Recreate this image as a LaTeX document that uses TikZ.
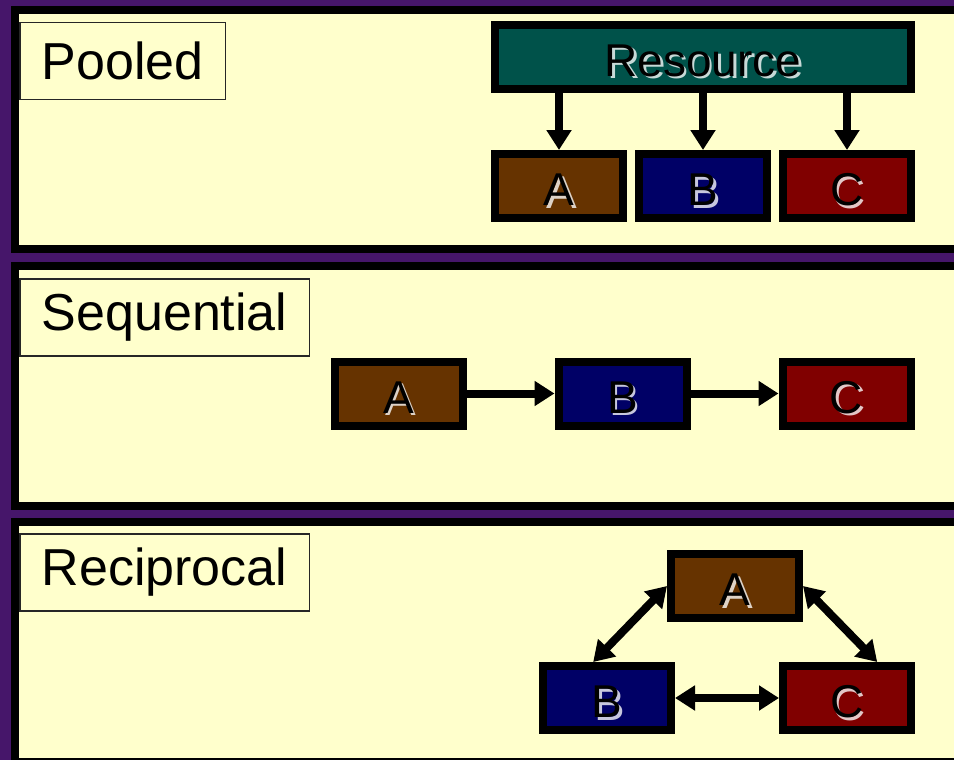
\documentclass[tikz,border=0pt]{standalone}
\usepackage{fontspec}
\setmainfont{Liberation Sans}
\usepackage{tikz}
\usetikzlibrary{arrows.meta,positioning}

\definecolor{dusk}{RGB}{70,22,106}
\definecolor{paper}{RGB}{255,255,204}
\definecolor{pool}{RGB}{0,82,74}
\definecolor{umber}{RGB}{102,51,0}
\definecolor{navy}{RGB}{0,0,102}
\definecolor{maroon}{RGB}{128,0,0}
\colorlet{glint}{white}
% black letters with a pale offset copy behind them
\newcommand{\lit}[1]{\rlap{\kern2.5pt\raisebox{-2.5pt}{\color{glint}#1}}#1}

\begin{document}
\begin{tikzpicture}[x=1pt,y=-1pt,>={Triangle[length=20pt,width=24pt]},
                    line width=8pt,node distance=8pt]
  \tikzstyle{panel}=[draw=black,fill=paper,line width=8pt]
  \tikzstyle{tag}=[draw=black!85,fill=paper,line width=1.5pt,anchor=north west,
    minimum height=77pt,inner xsep=22pt,font=\fontsize{52}{60}\selectfont]
  \tikzstyle{unit}=[draw=black,line width=8pt,minimum width=128pt,
    minimum height=64pt,text height=39pt,text depth=0pt,
    font=\fontsize{46}{54}\selectfont]
  \tikzstyle{unitA}=[unit,fill=umber,
    execute at begin node={\colorlet{glint}{white!78!umber}}]
  \tikzstyle{unitB}=[unit,fill=navy,
    execute at begin node={\colorlet{glint}{white!78!navy}}]
  \tikzstyle{unitC}=[unit,fill=maroon,
    execute at begin node={\colorlet{glint}{white!78!maroon}}]
  \tikzstyle{unitR}=[unit,fill=pool,
    execute at begin node={\colorlet{glint}{white!78!pool}}]

  \useasboundingbox (0,0) rectangle (954,760);
  \clip (0,0) rectangle (954,760);
  \fill[dusk] (0,0) rectangle (954,760);

  % the three bands
  \draw[panel] (15,10) rectangle (970,249);
  \draw[panel] (15,265.5) rectangle (970,505.5);
  \draw[panel] (15,522) rectangle (970,762);

  \node[tag] (pooled)     at (19,22)  {Pooled};
  \node[tag] (sequential) at (19,278) {Sequential};
  \node[tag] (reciprocal) at (19,533) {Reciprocal};

  % pooled
  \node[unitA] (PA) at (559,186)      {\lit{A}};
  \node[unitB] (PB) [right=of PA]     {\lit{B}};
  \node[unitC] (PC) [right=of PB]     {\lit{C}};
  \node[unitR,minimum width=416pt] (PR) [above=57pt of PB] {\lit{Resource}};
  \path[->]
  (PR.south -| PA) edge (PA)
  (PR.south -| PB) edge (PB)
  (PR.south -| PC) edge (PC);

  % sequential
  \node[unitA] (SA) at (398.5,393.5)  {\lit{A}};
  \node[unitB] (SB) [right=88pt of SA] {\lit{B}};
  \node[unitC] (SC) [right=88pt of SB] {\lit{C}};
  \path[->]
  (SA) edge (SB)
  (SB) edge (SC);

  % reciprocal
  \node[unitA] (RA) at (735,586)      {\lit{A}};
  \node[unitB] (RB) [below=40pt of RA,xshift=-128pt] {\lit{B}};
  \node[unitC] (RC) [right=104pt of RB] {\lit{C}};
  \path[<->]
  (RA.west) edge (RB.111)
  (RA.east) edge (RC.50)
  (RB) edge (RC);
\end{tikzpicture}
\end{document}
